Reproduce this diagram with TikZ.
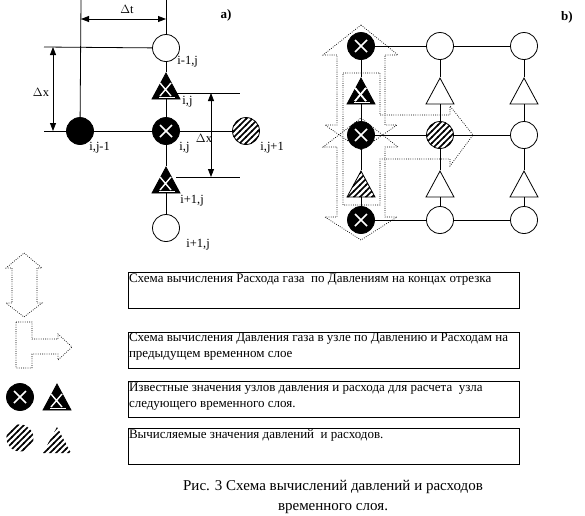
\documentclass[tikz,border=0pt]{standalone}
\usepackage{fontspec}
\setmainfont{Liberation Serif}
\usepackage{tikz}
\usetikzlibrary{positioning,shapes.geometric,arrows.meta,patterns}

\pgfdeclarepatternformonly{hatchthick}{\pgfqpoint{-1pt}{-1pt}}{\pgfqpoint{7pt}{7pt}}{\pgfqpoint{6pt}{6pt}}{%
  \pgfsetlinewidth{1.7pt}
  \pgfpathmoveto{\pgfqpoint{-1pt}{-1pt}}
  \pgfpathlineto{\pgfqpoint{7pt}{7pt}}
  \pgfusepath{stroke}}

\tikzset{
  knot/.style={circle, draw, fill=white, minimum size=27pt, inner sep=0pt},
  knotblack/.style={knot, fill=black},
  knotstripe/.style={knot, pattern=hatchthick},
  valve/.style={isosceles triangle, isosceles triangle stretches, shape border rotate=90,
    draw, fill=white, minimum width=28pt, minimum height=26pt, inner sep=0pt},
  valveblack/.style={valve, fill=black},
  valvestripe/.style={valve, pattern=hatchthick},
  dimarrow/.style={{Triangle[length=8pt,width=6pt]}-{Triangle[length=8pt,width=6pt]}},
  flowpath/.style={line width=0.7pt, dash pattern=on 0.8pt off 1.4pt},
  lbl/.style={font=\fontsize{12.5}{13}\selectfont, inner sep=0pt},
  legendbox/.style={draw, minimum width=391pt, minimum height=36pt, inner sep=0pt},
  boxtext/.style={font=\fontsize{13}{16}\selectfont, align=left, inner sep=1pt}
}

\newcommand{\knotcross}[1]{%
  \draw[white, line width=1.6pt] ([shift={(-6,-6)}]#1.center) -- ([shift={(6,6)}]#1.center)
    ([shift={(-6,6)}]#1.center) -- ([shift={(6,-6)}]#1.center);}
\newcommand{\valvecross}[1]{%
  \draw[white, line width=1.4pt] ([shift={(-6,11)}]#1.apex) -- ([shift={(5,24)}]#1.apex)
    ([shift={(-6,24)}]#1.apex) -- ([shift={(5,11)}]#1.apex);
  \draw[white, line width=0.8pt] ([shift={(-7,25)}]#1.apex) -- ([shift={(9,25)}]#1.apex);}

\begin{document}
\begin{tikzpicture}[x=1pt, y=-1pt, line width=0.8pt]
\useasboundingbox (0,0) rectangle (585,515);

% a)
\node[knot] (top) at (166,48) {};
\node[valveblack, anchor=apex] (qtop) at (166,72) {};
\node[knotblack] (mid) at (166,131) {};
\node[valveblack, anchor=apex] (qbot) at (166,166) {};
\node[knot] (bot) at (166,228) {};
\node[knotblack] (left) at (80,131) {};
\node[knotstripe] (right) at (246,131) {};
\knotcross{mid}
\valvecross{qtop}
\valvecross{qbot}

\coordinate (ctop) at (166,0);
\coordinate (ltop) at (81,0);
\coordinate (h1) at (44,47);
\coordinate (h2) at (44,131);
\draw (ctop) -- (top) -- (qtop) -- (mid) -- (qbot) -- (bot);
\draw (ltop) -- (left);
\draw (h1) -- (top);
\draw (h2) -- (left) -- (mid) -- (right);
\coordinate (e1) at (176,93);
\coordinate (e2) at (240,93);
\coordinate (e3) at (176,177);
\coordinate (e4) at (240,177);
\draw (e1) -- (e2);
\draw (e3) -- (e4);

\coordinate (dt1) at (81,19);
\coordinate (dt2) at (166,19);
\coordinate (dx1) at (53,47);
\coordinate (dx2) at (53,131);
\coordinate (dx3) at (211,93);
\coordinate (dx4) at (211,177);
\draw[dimarrow] (dt1) -- (dt2);
\draw[dimarrow] (dx1) -- (dx2);
\draw[dimarrow] (dx3) -- (dx4);

\node[lbl] (ldt) at (127,9) {$\Delta$t};
\node[lbl] (ldx1) at (41,92) {$\Delta$x};
\node[lbl] (ldx2) at (204,138) {$\Delta$x};
\node[font=\fontsize{13}{14}\selectfont\bfseries] (la) at (226,15) {a)};
\node[lbl, anchor=west] (l1) at (177,62) {i-1,j};
\node[lbl, anchor=west] (l2) at (182,102) {i,j};
\node[lbl, anchor=west] (l3) at (89,148) {i,j-1};
\node[lbl, anchor=west] (l4) at (179,148) {i,j};
\node[lbl, anchor=west] (l5) at (260,148) {i,j+1};
\node[lbl, anchor=west] (l6) at (180,201) {i+1,j};
\node[lbl, anchor=west] (l7) at (186,245) {i+1,j};

% b)
\foreach \n/\x/\y/\s in {p11/361/46/knotblack, p12/440/46/knot, p13/524/46/knot,
  p21/361/135/knotblack, p22/440/135/knotstripe, p23/524/135/knot,
  p31/361/220/knotblack, p32/440/220/knot, p33/524/220/knot}
  \node[\s] (\n) at (\x,\y) {};
\foreach \n/\x/\y/\s in {q11/361/77/valveblack, q12/440/77/valve, q13/524/77/valve,
  q21/361/170/valvestripe, q22/440/170/valve, q23/524/170/valve}
  \node[\s, anchor=apex] (\n) at (\x,\y) {};
\foreach \n in {p11,p21,p31}
  \knotcross{\n}
\valvecross{q11}
\foreach \r in {1,2,3}
  \draw (p\r1) -- (p\r2) -- (p\r3);
\foreach \c in {1,2,3}
  \draw (p1\c) -- (q1\c) -- (p2\c) -- (q2\c) -- (p3\c);
\node[font=\fontsize{13}{14}\selectfont\bfseries] (lb) at (567,17) {b)};

% flow schemes
\draw[flowpath] (361,25) -- (398,55) -- (385,55) -- (385,125) -- (397,125) -- (361,150)
  -- (325,125) -- (337,125) -- (337,55) -- (323,55) -- cycle;
\draw[flowpath] (361,118) -- (398,147) -- (385,147) -- (385,217) -- (397,217) -- (361,240)
  -- (325,217) -- (337,217) -- (337,147) -- (323,147) -- cycle;
\draw[flowpath] (343,73) -- (380,73) -- (380,115) -- (450,115) -- (450,106) -- (473,135)
  -- (450,166) -- (450,159) -- (380,159) -- (380,205) -- (343,205) -- cycle;

% legend
\draw[flowpath] (24,253) -- (42,268) -- (37,268) -- (37,303) -- (42,303) -- (24,317)
  -- (6,303) -- (12,303) -- (12,268) -- (6,268) -- cycle;
\draw[flowpath] (16,322) -- (32,322) -- (32,339) -- (58,339) -- (58,334) -- (72,347)
  -- (58,360) -- (58,354) -- (32,354) -- (32,368) -- (16,368) -- cycle;
\node[knotblack] (lk1) at (20,397) {};
\node[valveblack, anchor=apex] (lq1) at (57,383) {};
\node[knotstripe, draw=none] (lk2) at (20,438) {};
\node[valvestripe, draw=none, anchor=apex] (lq2) at (57,426) {};
\knotcross{lk1}
\valvecross{lq1}

\node[legendbox] (box1) at (323.5,290.5) {};
\node[legendbox] (box2) at (323.5,350) {};
\node[legendbox] (box3) at (323.5,399.5) {};
\node[legendbox] (box4) at (323.5,446.5) {};
\node[boxtext, anchor=north west] (t1) at (box1.north west)
  {Схема вычисления Расхода газа \ по Давлениям на концах отрезка};
\node[boxtext, anchor=north west] (t2) at (box2.north west)
  {Схема вычисления Давления газа в узле по Давлению и Расходам на\\предыдущем временном слое};
\node[boxtext, anchor=north west] (t3) at (box3.north west)
  {Известные значения узлов давления и расхода для расчета \ узла\\следующего временного слоя.};
\node[boxtext, anchor=north west] (t4) at (box4.north west)
  {Вычисляемые значения давлений \ и расходов.};

\node[font=\fontsize{15}{20}\selectfont, align=center] (cap) at (333,497)
  {Рис. 3 Схема вычислений давлений и расходов\\временного слоя.};
\end{tikzpicture}
\end{document}
